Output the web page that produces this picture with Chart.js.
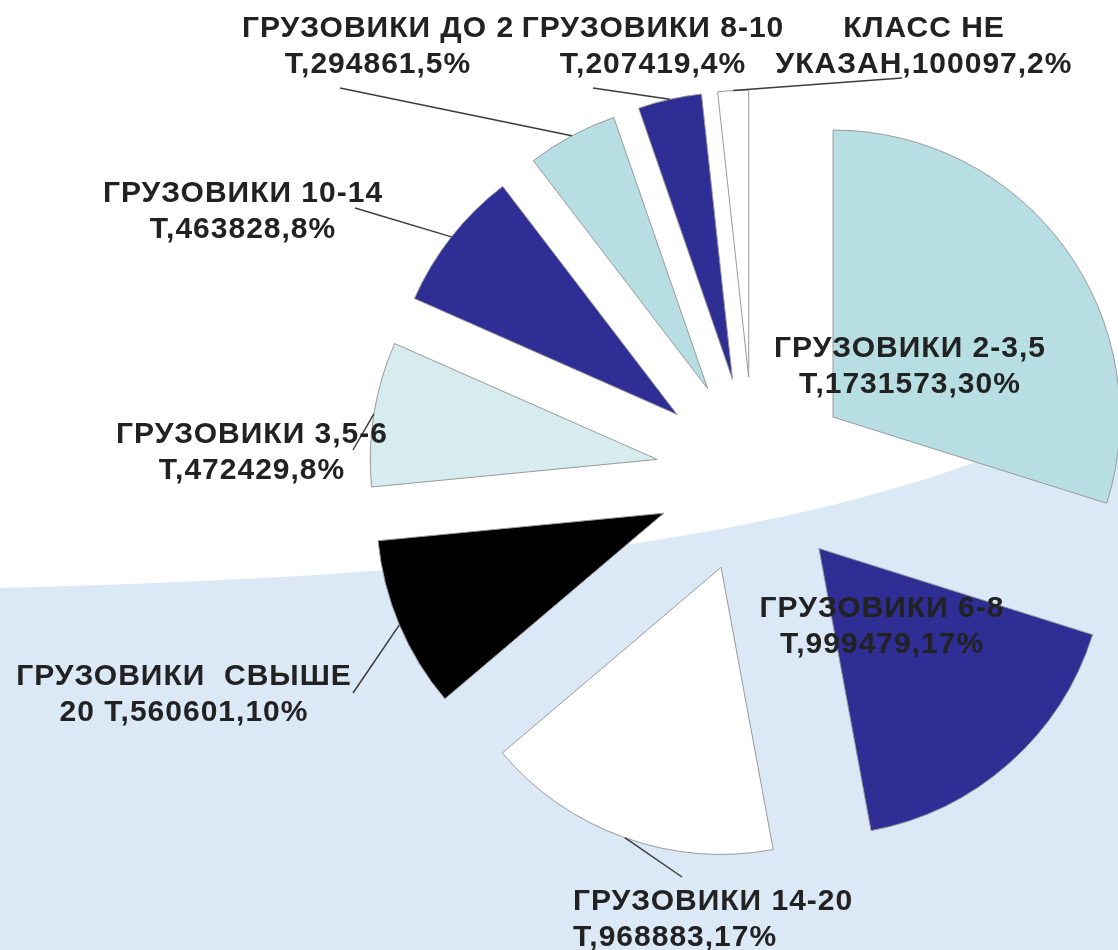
<!DOCTYPE html>
<html lang="ru">
<head>
  <meta charset="UTF-8">
  <title>Грузовики по классам</title>
  <script src="https://cdn.jsdelivr.net/npm/chart.js"></script>
  <style>
    html, body { margin: 0; padding: 0; background: #fff; }
    #wrap { width: 1118px; height: 950px; position: relative; }
  </style>
</head>
<body>
  <div id="wrap"><canvas id="trucksChart"></canvas></div>

  <script>
    // category names: first part stays on line 1, second part starts line 2 (before the numbers)
    const categories = [
      ['ГРУЗОВИКИ 2-3,5', 'Т'],
      ['ГРУЗОВИКИ 6-8', 'Т'],
      ['ГРУЗОВИКИ 14-20', 'Т'],
      ['ГРУЗОВИКИ  СВЫШЕ', '20 Т'],
      ['ГРУЗОВИКИ 3,5-6', 'Т'],
      ['ГРУЗОВИКИ 10-14', 'Т'],
      ['ГРУЗОВИКИ ДО 2', 'Т'],
      ['ГРУЗОВИКИ 8-10', 'Т'],
      ['КЛАСС НЕ', 'УКАЗАН']
    ];
    const counts = [1731573, 999479, 968883, 560601, 472429, 463828, 294861, 207419, 100097];
    const sliceColors = ['#b7dee2', '#2e2e94', '#ffffff', '#000000', '#d6ecef',
                         '#2e2e94', '#b7dee2', '#2e2e94', '#ffffff'];

    // label placement (baseline of line 1) and start of the leader line, if any
    const labelPos = [
      { x: 910, y: 357, align: 'center', lead: null },
      { x: 882, y: 617, align: 'center', lead: null },
      { x: 573, y: 910, align: 'left',   lead: [682, 877] },
      { x: 184, y: 685, align: 'center', lead: [353, 693] },
      { x: 252, y: 443, align: 'center', lead: [353, 450] },
      { x: 243, y: 202, align: 'center', lead: [355, 208] },
      { x: 378, y: 37,  align: 'center', lead: [340, 88] },
      { x: 653, y: 37,  align: 'center', lead: [593, 88] },
      { x: 924, y: 37,  align: 'center', lead: [902, 78] }
    ];
    const explodeDist = 98;

    // white slide with the pale blue swoosh at the bottom
    const backdrop = {
      id: 'backdrop',
      beforeDraw(chart) {
        const { ctx, width, height } = chart;
        ctx.save();
        ctx.fillStyle = '#ffffff';
        ctx.fillRect(0, 0, width, height);
        ctx.fillStyle = '#dbe9f7';
        ctx.beginPath();
        ctx.moveTo(0, 588);
        ctx.bezierCurveTo(500, 575, 850, 540, width, 400);
        ctx.lineTo(width, height);
        ctx.lineTo(0, height);
        ctx.closePath();
        ctx.fill();
        ctx.restore();
      }
    };

    // pull every slice out along its bisector (keeps radius and angles intact)
    const explode = {
      id: 'explode',
      afterDatasetUpdate(chart, args) {
        args.meta.data.forEach(arc => {
          const mid = (arc.startAngle + arc.endAngle) / 2;
          arc.x += Math.cos(mid) * explodeDist;
          arc.y += Math.sin(mid) * explodeDist;
        });
      }
    };

    const sliceLabels = {
      id: 'sliceLabels',
      afterDatasetsDraw(chart) {
        const { ctx } = chart;
        const arcs = chart.getDatasetMeta(0).data;
        const vals = chart.data.datasets[0].data;
        const total = vals.reduce((a, b) => a + b, 0);
        ctx.save();
        arcs.forEach((arc, i) => {
          const pos = labelPos[i];
          if (pos.lead) {
            const mid = (arc.startAngle + arc.endAngle) / 2;
            ctx.strokeStyle = '#3c3c3c';
            ctx.lineWidth = 1.5;
            ctx.beginPath();
            ctx.moveTo(pos.lead[0], pos.lead[1]);
            ctx.lineTo(arc.x + Math.cos(mid) * arc.outerRadius, arc.y + Math.sin(mid) * arc.outerRadius);
            ctx.stroke();
          }
          const name = chart.data.labels[i];
          const pct = Math.round(vals[i] / total * 100);
          const lines = [name[0], name[1] + ',' + vals[i] + ',' + pct + '%'];
          ctx.font = 'bold 30px "Liberation Sans", Arial, sans-serif';
          ctx.letterSpacing = '1px';
          ctx.fillStyle = '#222222';
          ctx.textAlign = pos.align;
          ctx.textBaseline = 'alphabetic';
          lines.forEach((t, k) => ctx.fillText(t, pos.x, pos.y + k * 36));
        });
        ctx.restore();
      }
    };

    new Chart(document.getElementById('trucksChart'), {
      type: 'pie',
      data: {
        labels: categories,
        datasets: [{
          data: counts,
          backgroundColor: sliceColors,
          borderColor: '#9a9a9a',
          borderWidth: 1
        }]
      },
      options: {
        responsive: true,
        maintainAspectRatio: false,
        animation: false,
        radius: 287,
        layout: { padding: { left: 390, right: 0, top: 0, bottom: 0 } },
        plugins: {
          legend: { display: false },
          tooltip: { enabled: false }
        }
      },
      plugins: [backdrop, explode, sliceLabels]
    });
  </script>
</body>
</html>
